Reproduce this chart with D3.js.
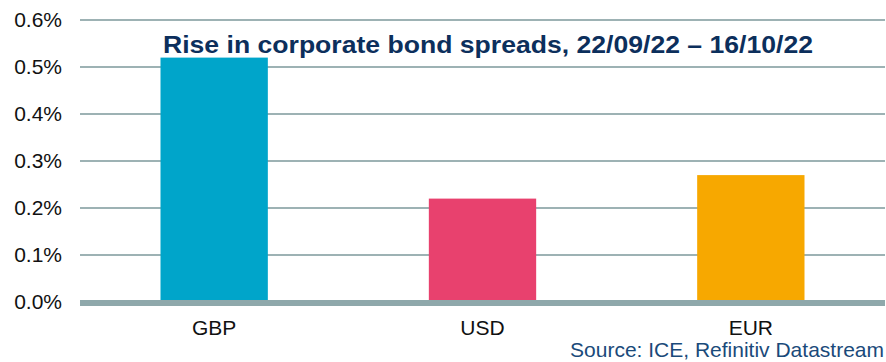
<!DOCTYPE html>
<html>
<head>
<meta charset="utf-8">
<script src="https://cdn.jsdelivr.net/npm/d3@7"></script>
<style>
  body { margin: 0; background: #fff; }
  svg { display: block; font-family: 'Liberation Sans', Arial, sans-serif; }
</style>
</head>
<body>
<svg width="886" height="362"></svg>
<script>
const categories = ['GBP', 'USD', 'EUR'];
const values = [0.52, 0.22, 0.27];
const colors = ['#00a5ca', '#e8416e', '#f7a800'];
const yTicks = [0, 0.1, 0.2, 0.3, 0.4, 0.5, 0.6];
const title = 'Rise in corporate bond spreads, 22/09/22 \u2013 16/10/22';
const source = 'Source: ICE, Refinitiv Datastream';

const svg = d3.select('svg');

const x = d3.scaleBand()
  .domain(categories)
  .range([80, 885])
  .paddingInner(0.6)
  .paddingOuter(0.3);

const y = d3.scaleLinear()
  .domain([0, 0.6])
  .range([302, 20]);

// gridlines
svg.append('g')
  .selectAll('line')
  .data(yTicks.filter(d => d > 0))
  .join('line')
  .attr('x1', 80)
  .attr('x2', 885)
  .attr('y1', d => y(d))
  .attr('y2', d => y(d))
  .attr('stroke', '#9db2b4')
  .attr('stroke-width', 2);

// y axis labels
const yAxis = svg.append('g')
  .attr('transform', 'translate(62,0)')
  .call(d3.axisLeft(y).tickValues(yTicks).tickFormat(d => d.toFixed(1) + '%').tickSize(0).tickPadding(0));
yAxis.select('.domain').remove();
yAxis.selectAll('text')
  .attr('font-size', 21)
  .attr('font-family', "'Liberation Sans', Arial, sans-serif")
  .attr('fill', '#111');

// bars
svg.append('g')
  .selectAll('rect')
  .data(values)
  .join('rect')
  .attr('x', (d, i) => x(categories[i]))
  .attr('width', x.bandwidth())
  .attr('y', d => y(d))
  .attr('height', d => y(0) - y(d))
  .attr('fill', (d, i) => colors[i]);

// baseline
svg.append('line')
  .attr('x1', 80)
  .attr('x2', 885)
  .attr('y1', y(0) + 1)
  .attr('y2', y(0) + 1)
  .attr('stroke', '#8fa8ab')
  .attr('stroke-width', 6);

// x axis labels
const xAxis = svg.append('g')
  .attr('transform', `translate(0,${y(0) + 4})`)
  .call(d3.axisBottom(x).tickSize(0).tickPadding(14));
xAxis.select('.domain').remove();
xAxis.selectAll('text')
  .attr('font-size', 21)
  .attr('font-family', "'Liberation Sans', Arial, sans-serif")
  .attr('fill', '#111');

// title
svg.append('text')
  .attr('x', 488)
  .attr('y', 53)
  .attr('text-anchor', 'middle')
  .attr('font-size', 24)
  .attr('font-weight', 'bold')
  .attr('fill', '#0c2f5c')
  .attr('textLength', 650)
  .attr('lengthAdjust', 'spacingAndGlyphs')
  .text(title);

// source
svg.append('text')
  .attr('x', 884)
  .attr('y', 357)
  .attr('text-anchor', 'end')
  .attr('font-size', 21)
  .attr('fill', '#1a4a7a')
  .text(source);
</script>
</body>
</html>
